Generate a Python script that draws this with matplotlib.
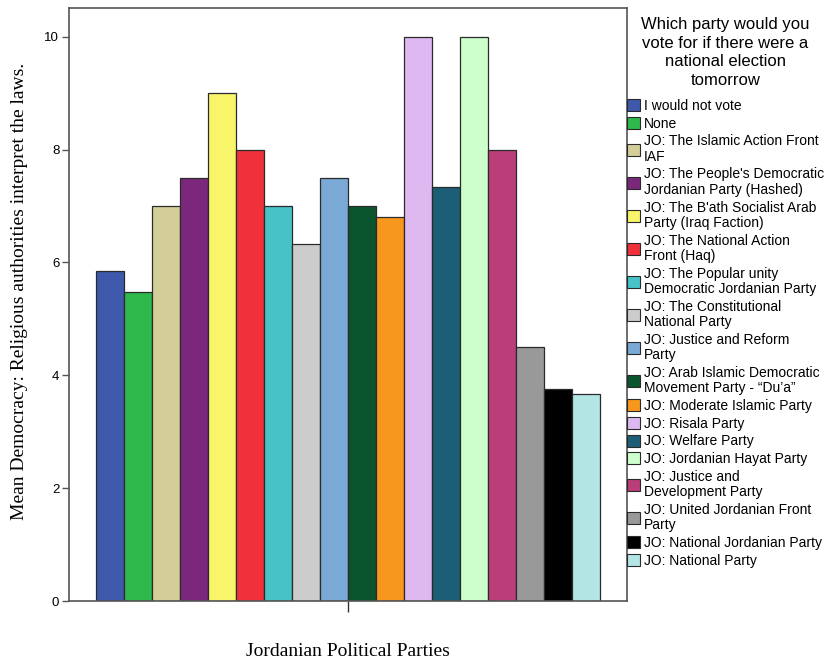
import matplotlib
matplotlib.use("Agg")
import matplotlib.pyplot as plt
from matplotlib.patches import Patch

parties = [
    "I would not vote",
    "None",
    "JO: The Islamic Action Front\nIAF",
    "JO: The People's Democratic\nJordanian Party (Hashed)",
    "JO: The B'ath Socialist Arab\nParty (Iraq Faction)",
    "JO: The National Action\nFront (Haq)",
    "JO: The Popular unity\nDemocratic Jordanian Party",
    "JO: The Constitutional\nNational Party",
    "JO: Justice and Reform\nParty",
    "JO: Arab Islamic Democratic\nMovement Party - \u201cDu\u2019a\u201d",
    "JO: Moderate Islamic Party",
    "JO: Risala Party",
    "JO: Welfare Party",
    "JO: Jordanian Hayat Party",
    "JO: Justice and\nDevelopment Party",
    "JO: United Jordanian Front\nParty",
    "JO: National Jordanian Party",
    "JO: National Party",
]
means = [5.85, 5.48, 7.0, 7.5, 9.0, 8.0, 7.0, 6.33, 7.5, 7.0, 6.8, 10.0, 7.33, 10.0, 8.0, 4.5, 3.75, 3.67]
colors = ["#3E58AC", "#2FB84B", "#D3CE97", "#7B287C", "#F9F56A", "#F0313A",
          "#47C3C8", "#CCCCCC", "#7BA9D6", "#0A552D", "#F7971E", "#DEB8F0",
          "#1C5E75", "#CCFFCC", "#B93E7A", "#999999", "#000000", "#B3E5E5"]
yticks = [0, 2, 4, 6, 8, 10]

fig = plt.figure(figsize=(8.31, 6.64), dpi=100)
ax = fig.add_axes([69/831, 1 - 601/664, (627-69)/831, (601-8)/664])

x = list(range(len(means)))
ax.bar(x, means, width=1.0, color=colors, edgecolor="#2a2a2a", linewidth=0.9)
ax.set_xlim(-1.46, 18.46)
ax.set_ylim(0, 10.51)
ax.set_yticks(yticks)
ax.set_yticklabels([str(t) for t in yticks], fontfamily="Liberation Sans", fontsize=9.5)
ax.set_xticks([8.5])
ax.set_xticklabels([""])
ax.tick_params(axis="y", direction="out", length=5, width=1, color="#555555", pad=2)
ax.tick_params(axis="x", direction="out", length=8, width=1, color="#333333")
for s in ax.spines.values():
    s.set_color("#555555")
    s.set_linewidth(1.2)

fig.text(20/831, 1 - 291/664, "Mean Democracy: Religious authorities interpret the laws.",
         fontfamily="Liberation Serif", fontsize=14, rotation=90,
         ha="center", va="center")
fig.text(348/831, 1 - 651/664, "Jordanian Political Parties",
         fontfamily="Liberation Serif", fontsize=14, ha="center", va="center")

handles = [Patch(facecolor=c, edgecolor="#2a2a2a", linewidth=0.8) for c in colors]
leg = fig.legend(handles, parties, loc="upper left",
                 bbox_to_anchor=(627/831, 1 - 17/664), frameon=False,
                 prop={"family": "Liberation Sans", "size": 10},
                 title="Which party would you\nvote for if there were a\nnational election\ntomorrow",
                 title_fontproperties={"family": "Liberation Sans", "size": 12},
                 borderpad=0, borderaxespad=0, labelspacing=0.27,
                 handlelength=0.95, handleheight=0.95, handletextpad=0.25)
leg.get_title().set_multialignment("center")
leg.get_title().set_linespacing(1.3)
for t in leg.get_texts():
    t.set_linespacing(1.12)
leg._legend_box.sep = 8
fig.savefig("out.png", dpi=100)
